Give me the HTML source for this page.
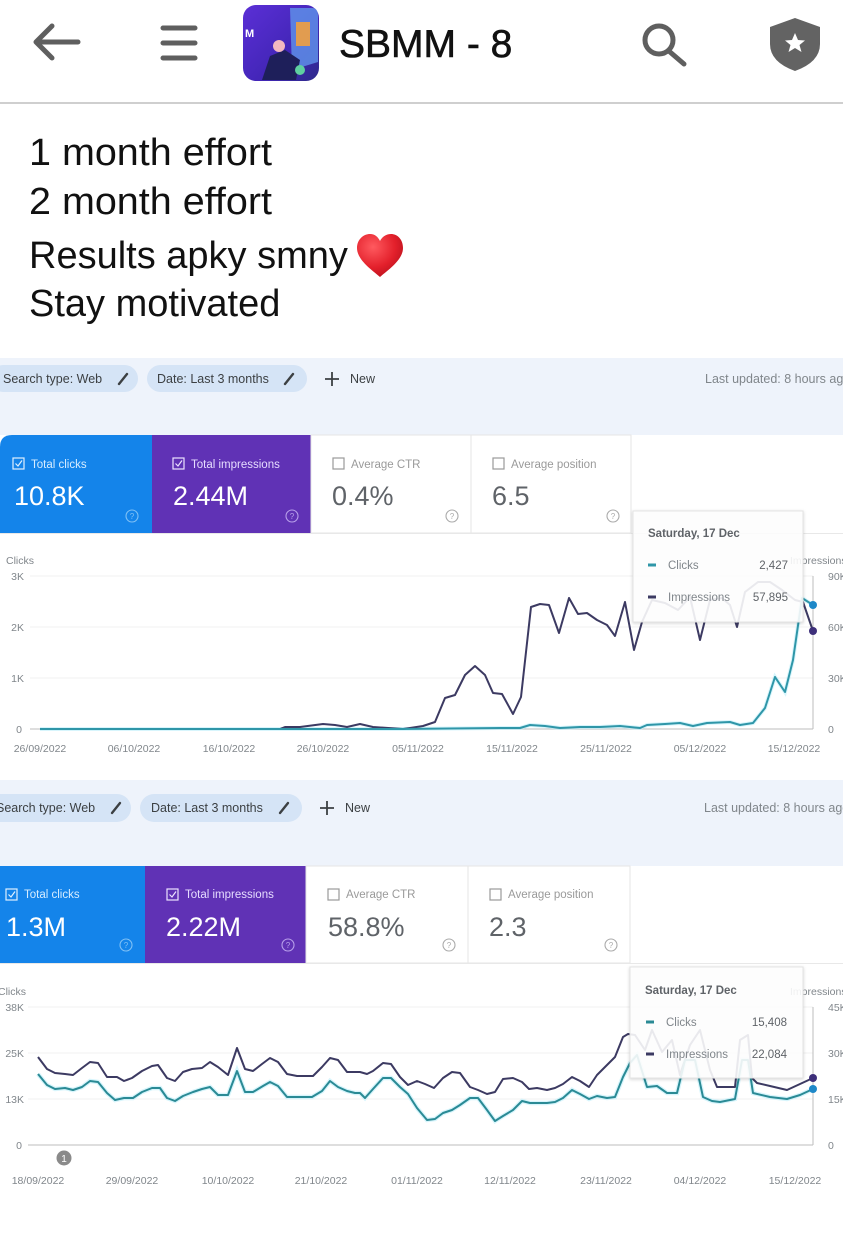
<!DOCTYPE html>
<html><head><meta charset="utf-8">
<style>
html,body{margin:0;padding:0;background:#fff;}
svg{display:block;}
text{font-family:"Liberation Sans",Arial,sans-serif;}
</style></head>
<body>
<svg width="843" height="1243" viewBox="0 0 843 1243" xmlns="http://www.w3.org/2000/svg">
<defs>
<linearGradient id="ig" x1="0" y1="0" x2="1" y2="1">
<stop offset="0" stop-color="#5b2fd6"/><stop offset="0.6" stop-color="#4326b8"/><stop offset="1" stop-color="#2d2a8a"/>
</linearGradient>
<radialGradient id="hg" cx="0.35" cy="0.3" r="0.8">
<stop offset="0" stop-color="#ff5a5f"/><stop offset="0.6" stop-color="#e3202b"/><stop offset="1" stop-color="#b5101c"/>
</radialGradient>
<filter id="sh" x="-10%" y="-10%" width="120%" height="130%"><feDropShadow dx="0" dy="1" stdDeviation="1.5" flood-color="#000" flood-opacity="0.18"/></filter>
</defs>
<rect width="843" height="1243" fill="#fff"/>

<!-- HEADER -->
<g stroke="#5f5f5f" stroke-width="5" stroke-linecap="round" stroke-linejoin="round" fill="none">
<path d="M78 42 H36 M52 26 L36 42 L52 58"/>
<path d="M163 28 H195 M163 43 H195 M163 58 H195"/>
<circle cx="659" cy="40" r="14"/>
<path d="M670 52 L684 64"/>
</g>
<rect x="243" y="5" width="76" height="76" rx="13" fill="url(#ig)"/>
<path d="M290 8 L312 8 Q318 8 318 16 L318 62 L292 70 Z" fill="#5e8ee8" opacity="0.85"/>
<rect x="296" y="22" width="14" height="24" fill="#f0a040" opacity="0.9"/>
<path d="M262 80 L270 56 L285 50 L300 60 L296 80 Z" fill="#1e1f5a"/>
<circle cx="279" cy="46" r="6" fill="#f2b8c0"/>
<text x="245" y="37" font-size="11" font-weight="bold" fill="#fff">M</text>
<circle cx="300" cy="70" r="5" fill="#5fd0a0"/>
<text x="339" y="57" font-size="39" fill="#111" stroke="#111" stroke-width="0.6">SBMM - 8</text>
<path d="M795 18 L820 27 V44 Q820 62 795 71 Q770 62 770 44 V27 Z" fill="#636363"/>
<path d="M795 33 L798 40 L805 40.5 L799.5 45 L801.5 52 L795 48 L788.5 52 L790.5 45 L785 40.5 L792 40 Z" fill="#fff"/>
<rect x="0" y="102" width="843" height="2" fill="#cfcfcf"/>

<!-- POST TEXT -->
<g font-size="38" fill="#111">
<text x="29" y="165" textLength="243" lengthAdjust="spacingAndGlyphs">1 month effort</text>
<text x="29" y="214" textLength="243" lengthAdjust="spacingAndGlyphs">2 month effort</text>
<text x="29" y="268">Results apky smny</text>
<text x="29" y="316">Stay motivated</text>
</g>
<path d="M380 277 C372 270 357 260 357 248 C357 239 364 234 370 234 C375 234 378 237 380 241 C382 237 386 234 391 234 C397 234 403 239 403 248 C403 260 388 270 380 277 Z" fill="url(#hg)"/>

<!-- SECTION 1 -->
<rect x="0" y="358" width="843" height="77" fill="#eef3fb"/>
<rect x="-10" y="365" width="148" height="27" rx="13.5" fill="#d5e4f6"/>
<rect x="147" y="365" width="160" height="27" rx="13.5" fill="#d5e4f6"/>
<g font-size="12.5" fill="#3c4043">
<text x="3" y="383">Search type: Web</text>
<text x="157" y="383">Date: Last 3 months</text>
<text x="350" y="383">New</text>
</g>
<g stroke="#3c4043" stroke-width="2.4" stroke-linecap="round"><path d="M119 384 L127 374"/><path d="M285 384 L293 374"/></g>
<path d="M332 372 V386 M325 379 H339" stroke="#3c4043" stroke-width="1.8"/>
<text x="705" y="383" font-size="12.5" fill="#80868b">Last updated: 8 hours ago</text>

<!-- cards 1 -->
<path d="M0 447 Q0 435 12 435 H152 V533 H0 Z" fill="#1484ea"/>
<rect x="152" y="435" width="159" height="98" fill="#6032b5"/>
<rect x="311" y="435" width="160" height="98" fill="#fff" stroke="#e6e6e6"/>
<rect x="471" y="435" width="160" height="98" fill="#fff" stroke="#e6e6e6"/>
<line x1="0" y1="533.5" x2="843" y2="533.5" stroke="#e8e8e8"/>
<g fill="none" stroke-width="1.2">
<rect x="13" y="458" width="11" height="11" stroke="#dff0ff"/><path d="M15.5 463.5 L18 466 L22 460.5" stroke="#dff0ff"/>
<rect x="173" y="458" width="11" height="11" stroke="#ece2ff"/><path d="M175.5 463.5 L178 466 L182 460.5" stroke="#ece2ff"/>
<rect x="333" y="458" width="11" height="11" stroke="#9a9a9a"/>
<rect x="493" y="458" width="11" height="11" stroke="#9a9a9a"/>
</g>
<text x="31" y="468" font-size="11.5" fill="#d6ecff">Total clicks</text>
<text x="191" y="468" font-size="11.5" fill="#e6dcff">Total impressions</text>
<text x="351" y="468" font-size="11.5" fill="#9a9a9a">Average CTR</text>
<text x="511" y="468" font-size="11.5" fill="#9a9a9a">Average position</text>
<g font-size="27">
<text x="14" y="505" fill="#fff">10.8K</text>
<text x="173" y="505" fill="#fff">2.44M</text>
<text x="332" y="505" fill="#5f6368">0.4%</text>
<text x="492" y="505" fill="#5f6368">6.5</text>
</g>
<g fill="none" stroke-width="1.1">
<circle cx="132" cy="516" r="6" stroke="#7fc0f5"/>
<circle cx="292" cy="516" r="6" stroke="#b8a0ea"/>
<circle cx="452" cy="516" r="6" stroke="#aaa"/>
<circle cx="613" cy="516" r="6" stroke="#aaa"/>
</g>
<g font-size="8" text-anchor="middle">
<text x="132" y="519" fill="#7fc0f5">?</text><text x="292" y="519" fill="#b8a0ea">?</text>
<text x="452" y="519" fill="#aaa">?</text><text x="613" y="519" fill="#aaa">?</text>
</g>

<!-- chart 1 -->
<g stroke="#f0f0f0" stroke-width="1"><line x1="30" y1="576" x2="813" y2="576"/><line x1="30" y1="627" x2="813" y2="627"/><line x1="30" y1="678" x2="813" y2="678"/></g>
<line x1="30" y1="729" x2="813" y2="729" stroke="#bdbdbd"/>
<line x1="813" y1="576" x2="813" y2="729" stroke="#bdbdbd"/>
<g font-size="10.5" fill="#80868b">
<text x="6" y="564">Clicks</text>
<text x="24" y="580" text-anchor="end">3K</text>
<text x="24" y="631" text-anchor="end">2K</text>
<text x="24" y="682" text-anchor="end">1K</text>
<text x="22" y="733" text-anchor="end">0</text>
<text x="790" y="564">Impressions</text>
<text x="828" y="580">90K</text><text x="828" y="631">60K</text><text x="828" y="682">30K</text><text x="828" y="733">0</text>
</g>
<g font-size="10.5" fill="#80868b" text-anchor="middle">
<text x="40" y="752">26/09/2022</text><text x="134" y="752">06/10/2022</text><text x="229" y="752">16/10/2022</text>
<text x="323" y="752">26/10/2022</text><text x="418" y="752">05/11/2022</text><text x="512" y="752">15/11/2022</text>
<text x="606" y="752">25/11/2022</text><text x="700" y="752">05/12/2022</text><text x="794" y="752">15/12/2022</text>
</g>
<polyline fill="none" stroke="#bdeefa" stroke-width="4" opacity="0.6" points="40,729 400,729 500,728 520,728 530,725 545,726 560,728 580,727 600,727 620,726 640,728 647,725 665,724 680,723 693,726 707,723 730,722 740,725 753,723 765,708 775,677 785,692 793,660 802,598 813,605"/>
<polyline fill="none" stroke="#3c3a62" stroke-width="2" stroke-linejoin="round" points="40,729 280,729 285,727 300,727 323,724 335,725 347,727 360,724 373,727 403,729 410,728 423,726 435,722 445,698 455,695 465,675 475,666 485,675 493,693 502,694 513,714 521,697 531,607 540,604 549,605 559,633 569,598 578,614 587,613 597,620 607,625 615,636 625,602 634,650 642,622 652,600 665,603 678,610 690,597 700,640 710,600 722,598 730,605 737,627 745,592 758,582 770,582 782,590 795,600 803,602 813,631"/>
<polyline fill="none" stroke="#2f96a8" stroke-width="2" stroke-linejoin="round" points="40,729 400,729 500,728 520,728 530,725 545,726 560,728 580,727 600,727 620,726 640,728 647,725 665,724 680,723 693,726 707,723 730,722 740,725 753,723 765,708 775,677 785,692 793,660 802,598 813,605"/>
<circle cx="813" cy="605" r="4" fill="#1e88c8"/>
<circle cx="813" cy="631" r="4" fill="#3d2f7a"/>
<!-- tooltip 1 -->
<rect x="633" y="511" width="170" height="111" fill="#fff" fill-opacity="0.88" stroke="#e4e4e4" filter="url(#sh)"/>
<text x="648" y="537" font-size="11.5" font-weight="bold" fill="#5f6368">Saturday, 17 Dec</text>
<rect x="648" y="563.5" width="8" height="3" fill="#2f96a8"/>
<rect x="648" y="595.5" width="8" height="3" fill="#3c3a62"/>
<text x="668" y="569" font-size="11.5" fill="#80868b">Clicks</text>
<text x="668" y="601" font-size="11.5" fill="#80868b">Impressions</text>
<text x="788" y="569" font-size="11.5" fill="#5f6368" text-anchor="end">2,427</text>
<text x="788" y="601" font-size="11.5" fill="#5f6368" text-anchor="end">57,895</text>

<!-- SECTION 2 -->
<rect x="0" y="780" width="843" height="86" fill="#eef3fb"/>
<rect x="-20" y="794" width="151" height="28" rx="14" fill="#d5e4f6"/>
<rect x="140" y="794" width="162" height="28" rx="14" fill="#d5e4f6"/>
<g font-size="12.5" fill="#3c4043">
<text x="-4" y="812">Search type: Web</text>
<text x="151" y="812">Date: Last 3 months</text>
<text x="345" y="812">New</text>
</g>
<g stroke="#3c4043" stroke-width="2.4" stroke-linecap="round"><path d="M112 813 L120 803"/><path d="M280 813 L288 803"/></g>
<path d="M327 801 V815 M320 808 H334" stroke="#3c4043" stroke-width="1.8"/>
<text x="704" y="812" font-size="12.5" fill="#80868b">Last updated: 8 hours ago</text>

<rect x="0" y="866" width="145" height="97" fill="#1484ea"/>
<rect x="145" y="866" width="161" height="97" fill="#6032b5"/>
<rect x="306" y="866" width="162" height="97" fill="#fff" stroke="#e6e6e6"/>
<rect x="468" y="866" width="162" height="97" fill="#fff" stroke="#e6e6e6"/>
<line x1="0" y1="963.5" x2="843" y2="963.5" stroke="#e8e8e8"/>
<g fill="none" stroke-width="1.2">
<rect x="6" y="889" width="11" height="11" stroke="#dff0ff"/><path d="M8.5 894.5 L11 897 L15 891.5" stroke="#dff0ff"/>
<rect x="167" y="889" width="11" height="11" stroke="#ece2ff"/><path d="M169.5 894.5 L172 897 L176 891.5" stroke="#ece2ff"/>
<rect x="328" y="889" width="11" height="11" stroke="#9a9a9a"/>
<rect x="490" y="889" width="11" height="11" stroke="#9a9a9a"/>
</g>
<text x="24" y="898" font-size="11.5" fill="#d6ecff">Total clicks</text>
<text x="185" y="898" font-size="11.5" fill="#e6dcff">Total impressions</text>
<text x="346" y="898" font-size="11.5" fill="#9a9a9a">Average CTR</text>
<text x="508" y="898" font-size="11.5" fill="#9a9a9a">Average position</text>
<g font-size="27">
<text x="6" y="936" fill="#fff">1.3M</text>
<text x="166" y="936" fill="#fff">2.22M</text>
<text x="328" y="936" fill="#5f6368">58.8%</text>
<text x="489" y="936" fill="#5f6368">2.3</text>
</g>
<g fill="none" stroke-width="1.1">
<circle cx="126" cy="945" r="6" stroke="#7fc0f5"/>
<circle cx="288" cy="945" r="6" stroke="#b8a0ea"/>
<circle cx="449" cy="945" r="6" stroke="#aaa"/>
<circle cx="611" cy="945" r="6" stroke="#aaa"/>
</g>
<g font-size="8" text-anchor="middle">
<text x="126" y="948" fill="#7fc0f5">?</text><text x="288" y="948" fill="#b8a0ea">?</text>
<text x="449" y="948" fill="#aaa">?</text><text x="611" y="948" fill="#aaa">?</text>
</g>

<!-- chart 2 -->
<g stroke="#f0f0f0" stroke-width="1"><line x1="28" y1="1007" x2="813" y2="1007"/><line x1="28" y1="1053" x2="813" y2="1053"/><line x1="28" y1="1099" x2="813" y2="1099"/></g>
<line x1="28" y1="1145" x2="813" y2="1145" stroke="#bdbdbd"/>
<line x1="813" y1="1007" x2="813" y2="1145" stroke="#bdbdbd"/>
<g font-size="10.5" fill="#80868b">
<text x="-2" y="995">Clicks</text>
<text x="24" y="1011" text-anchor="end">38K</text>
<text x="24" y="1057" text-anchor="end">25K</text>
<text x="24" y="1103" text-anchor="end">13K</text>
<text x="22" y="1149" text-anchor="end">0</text>
<text x="790" y="995">Impressions</text>
<text x="828" y="1011">45K</text><text x="828" y="1057">30K</text><text x="828" y="1103">15K</text><text x="828" y="1149">0</text>
</g>
<circle cx="64" cy="1158" r="7.5" fill="#8a8a8a"/>
<text x="64" y="1162" font-size="10" fill="#fff" text-anchor="middle">1</text>
<g font-size="10.5" fill="#80868b" text-anchor="middle">
<text x="38" y="1184">18/09/2022</text><text x="132" y="1184">29/09/2022</text><text x="228" y="1184">10/10/2022</text>
<text x="321" y="1184">21/10/2022</text><text x="417" y="1184">01/11/2022</text><text x="510" y="1184">12/11/2022</text>
<text x="606" y="1184">23/11/2022</text><text x="700" y="1184">04/12/2022</text><text x="795" y="1184">15/12/2022</text>
</g>
<polyline fill="none" stroke="#bdeefa" stroke-width="4.5" opacity="0.6" points="38,1074 47,1085 55,1089 65,1088 73,1090 82,1087 90,1081 98,1082 107,1093 115,1100 124,1098 133,1098 142,1092 152,1088 160,1088 167,1098 175,1101 183,1096 193,1092 202,1089 210,1087 218,1095 228,1095 237,1071 245,1092 253,1092 263,1086 270,1082 278,1086 287,1097 312,1097 322,1091 330,1081 338,1087 347,1091 355,1093 360,1093 365,1098 373,1089 383,1078 391,1078 400,1087 408,1094 417,1108 427,1120 435,1119 443,1113 452,1110 460,1105 470,1098 478,1098 487,1110 495,1121 503,1116 513,1110 522,1101 530,1103 547,1103 555,1102 563,1098 572,1090 580,1094 589,1099 597,1096 607,1098 615,1097 623,1077 630,1063 637,1055 647,1087 657,1086 667,1093 677,1093 685,1060 695,1060 703,1097 712,1101 720,1102 735,1099 742,1060 748,1060 753,1093 770,1097 787,1099 800,1095 813,1089"/>
<polyline fill="none" stroke="#3c3a62" stroke-width="2" stroke-linejoin="round" points="38,1057 47,1069 55,1073 65,1074 73,1075 82,1068 90,1062 98,1063 107,1077 117,1077 124,1081 132,1078 142,1071 152,1066 158,1065 167,1078 175,1081 183,1072 192,1069 202,1068 210,1062 218,1067 228,1075 237,1048 245,1069 253,1071 262,1064 270,1058 278,1062 287,1074 297,1076 313,1076 322,1067 330,1058 338,1060 347,1072 355,1072 360,1072 367,1074 373,1071 383,1063 391,1064 400,1077 408,1085 417,1081 425,1084 434,1088 443,1078 452,1072 460,1073 470,1087 478,1090 487,1094 495,1092 503,1079 513,1078 522,1082 529,1089 537,1088 547,1090 555,1088 563,1084 572,1077 580,1081 589,1087 597,1075 607,1065 615,1057 623,1037 628,1034 635,1035 645,1050 652,1030 662,1052 672,1040 680,1075 690,1045 700,1030 710,1070 717,1087 735,1087 740,1040 748,1035 752,1078 757,1083 770,1086 787,1090 800,1084 813,1078"/>
<polyline fill="none" stroke="#2a8a95" stroke-width="2" stroke-linejoin="round" points="38,1074 47,1085 55,1089 65,1088 73,1090 82,1087 90,1081 98,1082 107,1093 115,1100 124,1098 133,1098 142,1092 152,1088 160,1088 167,1098 175,1101 183,1096 193,1092 202,1089 210,1087 218,1095 228,1095 237,1071 245,1092 253,1092 263,1086 270,1082 278,1086 287,1097 312,1097 322,1091 330,1081 338,1087 347,1091 355,1093 360,1093 365,1098 373,1089 383,1078 391,1078 400,1087 408,1094 417,1108 427,1120 435,1119 443,1113 452,1110 460,1105 470,1098 478,1098 487,1110 495,1121 503,1116 513,1110 522,1101 530,1103 547,1103 555,1102 563,1098 572,1090 580,1094 589,1099 597,1096 607,1098 615,1097 623,1077 630,1063 637,1055 647,1087 657,1086 667,1093 677,1093 685,1060 695,1060 703,1097 712,1101 720,1102 735,1099 742,1060 748,1060 753,1093 770,1097 787,1099 800,1095 813,1089"/>
<circle cx="813" cy="1089" r="4" fill="#1e88c8"/>
<circle cx="813" cy="1078" r="4" fill="#3d2f7a"/>
<!-- tooltip 2 -->
<rect x="630" y="967" width="173" height="111" fill="#fff" fill-opacity="0.88" stroke="#e4e4e4" filter="url(#sh)"/>
<text x="645" y="994" font-size="11.5" font-weight="bold" fill="#5f6368">Saturday, 17 Dec</text>
<rect x="646" y="1020.5" width="8" height="3" fill="#2a8a95"/>
<rect x="646" y="1052.5" width="8" height="3" fill="#3c3a62"/>
<text x="666" y="1026" font-size="11.5" fill="#80868b">Clicks</text>
<text x="666" y="1058" font-size="11.5" fill="#80868b">Impressions</text>
<text x="787" y="1026" font-size="11.5" fill="#5f6368" text-anchor="end">15,408</text>
<text x="787" y="1058" font-size="11.5" fill="#5f6368" text-anchor="end">22,084</text>
</svg>
</body></html>
